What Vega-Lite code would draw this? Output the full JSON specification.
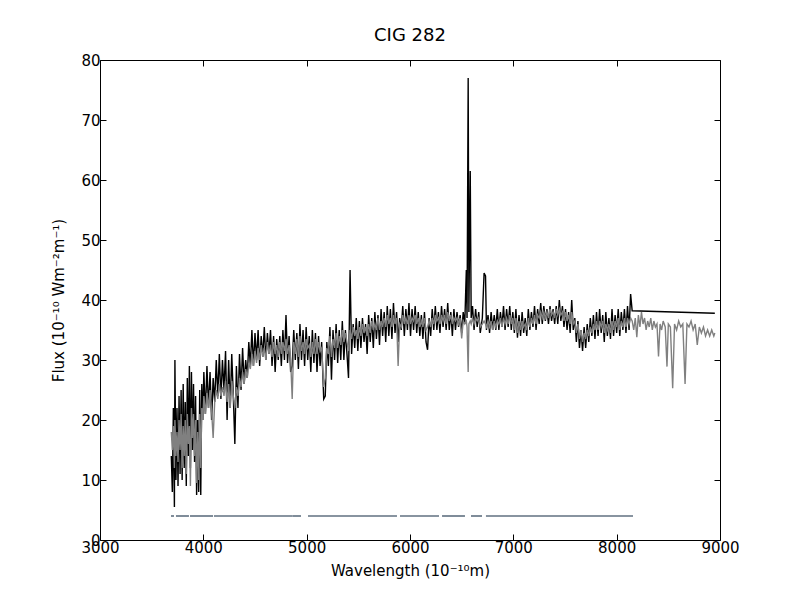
{
  "$schema": "https://vega.github.io/schema/vega-lite/v6.json",
  "width": 620,
  "height": 480,
  "autosize": {"type": "none"},
  "padding": {"left": 100, "top": 60, "right": 80, "bottom": 60},
  "background": "white",
  "title": {"text": "CIG 282", "font": "DejaVu Sans", "fontSize": 18, "fontWeight": "normal", "color": "black", "offset": 8},
  "config": {
    "view": {"stroke": "black", "strokeWidth": 1},
    "axis": {
      "domain": false, "grid": false, "tickColor": "black", "tickSize": -6, "tickWidth": 1,
      "labelFont": "DejaVu Sans", "labelFontSize": 15, "labelColor": "black", "labelFlush": false,
      "titleFont": "DejaVu Sans", "titleFontSize": 15, "titleFontWeight": "normal", "titleColor": "black",
      "labelPadding": 6
    }
  },
  "datasets": {
    "spec": [
      {"wl":3690,"obs":14,"fit":18},{"wl":3700,"obs":8,"fit":15},{"wl":3710,"obs":22,"fit":19},{"wl":3720,"obs":5.5,"fit":12},
      {"wl":3725,"obs":30,"fit":20},{"wl":3735,"obs":10,"fit":14},{"wl":3745,"obs":22,"fit":18},{"wl":3755,"obs":9,"fit":13},
      {"wl":3765,"obs":24,"fit":20},{"wl":3775,"obs":11,"fit":15},{"wl":3785,"obs":25,"fit":21},{"wl":3795,"obs":10,"fit":12},
      {"wl":3805,"obs":26,"fit":19},{"wl":3815,"obs":12,"fit":14},{"wl":3825,"obs":23,"fit":20},{"wl":3835,"obs":9,"fit":11},
      {"wl":3845,"obs":27,"fit":21},{"wl":3855,"obs":14,"fit":16},{"wl":3865,"obs":29,"fit":19},{"wl":3875,"obs":12,"fit":9},
      {"wl":3885,"obs":28,"fit":22},{"wl":3895,"obs":15,"fit":17},{"wl":3905,"obs":26,"fit":21},{"wl":3915,"obs":13,"fit":14},
      {"wl":3925,"obs":24,"fit":20},{"wl":3935,"obs":7.5,"fit":9.5},{"wl":3945,"obs":20,"fit":18},{"wl":3955,"obs":8,"fit":10},
      {"wl":3965,"obs":25,"fit":21},{"wl":3975,"obs":7.5,"fit":12},{"wl":3985,"obs":26,"fit":22},{"wl":3995,"obs":20,"fit":20},
      {"wl":4005,"obs":28,"fit":24},{"wl":4020,"obs":21,"fit":21},{"wl":4035,"obs":29,"fit":24.5},{"wl":4050,"obs":22,"fit":22},
      {"wl":4065,"obs":28,"fit":25},{"wl":4080,"obs":20,"fit":21.5},{"wl":4095,"obs":27,"fit":17},{"wl":4110,"obs":23,"fit":23},
      {"wl":4125,"obs":30,"fit":25},{"wl":4140,"obs":24,"fit":23.5},{"wl":4155,"obs":31,"fit":26},{"wl":4170,"obs":23.5,"fit":24},
      {"wl":4185,"obs":30,"fit":25.5},{"wl":4200,"obs":25,"fit":24},{"wl":4215,"obs":31.5,"fit":26.5},{"wl":4230,"obs":20,"fit":23},
      {"wl":4245,"obs":30,"fit":26},{"wl":4260,"obs":22,"fit":22},{"wl":4275,"obs":31,"fit":26.5},{"wl":4290,"obs":24,"fit":24},
      {"wl":4305,"obs":16,"fit":22},{"wl":4320,"obs":29,"fit":25.5},{"wl":4335,"obs":22,"fit":24},{"wl":4350,"obs":31,"fit":27},
      {"wl":4365,"obs":25,"fit":25.5},{"wl":4380,"obs":32,"fit":28},{"wl":4395,"obs":26,"fit":26},{"wl":4410,"obs":30,"fit":28.5},
      {"wl":4425,"obs":27,"fit":27},{"wl":4440,"obs":33,"fit":29.5},{"wl":4455,"obs":29,"fit":28.5},{"wl":4470,"obs":35,"fit":31},
      {"wl":4485,"obs":29,"fit":29},{"wl":4500,"obs":34.5,"fit":31.5},{"wl":4515,"obs":30,"fit":29.5},{"wl":4530,"obs":35,"fit":32},
      {"wl":4545,"obs":29,"fit":30},{"wl":4560,"obs":34,"fit":32.5},{"wl":4575,"obs":30.5,"fit":30.5},{"wl":4590,"obs":35.5,"fit":32},
      {"wl":4605,"obs":30,"fit":30},{"wl":4620,"obs":34.5,"fit":33},{"wl":4635,"obs":31,"fit":31},{"wl":4650,"obs":35,"fit":32.5},
      {"wl":4665,"obs":29,"fit":30.5},{"wl":4680,"obs":34,"fit":33},{"wl":4695,"obs":28,"fit":31},{"wl":4710,"obs":33.5,"fit":32.5},
      {"wl":4725,"obs":30,"fit":30.5},{"wl":4740,"obs":34,"fit":33},{"wl":4755,"obs":29,"fit":31},{"wl":4770,"obs":35,"fit":33},
      {"wl":4785,"obs":30,"fit":31.5},{"wl":4800,"obs":37.5,"fit":33.5},{"wl":4815,"obs":29.5,"fit":31},{"wl":4830,"obs":34,"fit":32.5},
      {"wl":4845,"obs":28,"fit":30},{"wl":4860,"obs":29,"fit":23.5},{"wl":4875,"obs":35,"fit":33},{"wl":4890,"obs":30,"fit":31},
      {"wl":4905,"obs":34.5,"fit":33.5},{"wl":4920,"obs":28.5,"fit":30.5},{"wl":4935,"obs":36,"fit":34},{"wl":4950,"obs":30,"fit":31.5},
      {"wl":4965,"obs":35,"fit":33},{"wl":4980,"obs":29,"fit":31},{"wl":4995,"obs":35.5,"fit":33.5},{"wl":5010,"obs":30,"fit":32},
      {"wl":5025,"obs":34,"fit":32.5},{"wl":5040,"obs":28,"fit":30.5},{"wl":5055,"obs":35,"fit":33},{"wl":5070,"obs":29.5,"fit":31},
      {"wl":5085,"obs":34.5,"fit":33.5},{"wl":5100,"obs":28,"fit":31},{"wl":5115,"obs":34,"fit":33},{"wl":5130,"obs":29,"fit":31.5},
      {"wl":5145,"obs":33,"fit":32},{"wl":5165,"obs":23.5,"fit":25.5},{"wl":5180,"obs":24,"fit":27},{"wl":5195,"obs":33,"fit":32},
      {"wl":5210,"obs":29,"fit":31},{"wl":5225,"obs":35.5,"fit":34},{"wl":5240,"obs":26.7,"fit":30.5},{"wl":5255,"obs":35,"fit":33.5},
      {"wl":5270,"obs":30,"fit":32},{"wl":5285,"obs":36,"fit":34.5},{"wl":5300,"obs":29.5,"fit":32},{"wl":5315,"obs":35,"fit":34},
      {"wl":5330,"obs":30,"fit":32.5},{"wl":5345,"obs":36.5,"fit":35},{"wl":5360,"obs":30,"fit":33},{"wl":5375,"obs":35,"fit":34.5},
      {"wl":5390,"obs":31,"fit":33},{"wl":5405,"obs":27,"fit":31.5},{"wl":5420,"obs":45,"fit":35},{"wl":5435,"obs":31,"fit":33.5},
      {"wl":5450,"obs":36,"fit":35.5},{"wl":5465,"obs":32,"fit":34},{"wl":5480,"obs":37,"fit":35},{"wl":5495,"obs":31.5,"fit":33.5},
      {"wl":5510,"obs":36.5,"fit":35.5},{"wl":5525,"obs":32,"fit":34},{"wl":5540,"obs":37,"fit":36},{"wl":5555,"obs":33,"fit":34.5},
      {"wl":5570,"obs":36,"fit":35.5},{"wl":5585,"obs":31,"fit":34},{"wl":5600,"obs":37.5,"fit":36},{"wl":5615,"obs":33,"fit":34.5},
      {"wl":5630,"obs":37,"fit":36.5},{"wl":5645,"obs":32,"fit":35},{"wl":5660,"obs":38,"fit":36},{"wl":5675,"obs":33.5,"fit":35},
      {"wl":5690,"obs":37.5,"fit":37},{"wl":5705,"obs":32.5,"fit":35},{"wl":5720,"obs":38.5,"fit":36.5},{"wl":5735,"obs":34,"fit":35.5},
      {"wl":5750,"obs":38,"fit":37},{"wl":5765,"obs":33,"fit":35.5},{"wl":5780,"obs":39,"fit":37.5},{"wl":5795,"obs":34,"fit":36},
      {"wl":5810,"obs":38.5,"fit":37},{"wl":5825,"obs":33.5,"fit":35.5},{"wl":5840,"obs":39.5,"fit":37.5},{"wl":5855,"obs":34.5,"fit":36},
      {"wl":5870,"obs":38,"fit":37},{"wl":5885,"obs":33,"fit":29},{"wl":5900,"obs":37,"fit":36},{"wl":5915,"obs":35,"fit":35.5},
      {"wl":5930,"obs":39,"fit":37.5},{"wl":5945,"obs":34,"fit":36},{"wl":5960,"obs":38.5,"fit":37},{"wl":5975,"obs":35,"fit":36},
      {"wl":5990,"obs":39.5,"fit":37.5},{"wl":6005,"obs":34,"fit":36},{"wl":6020,"obs":38.5,"fit":37},{"wl":6035,"obs":35,"fit":36.5},
      {"wl":6050,"obs":39,"fit":37.5},{"wl":6065,"obs":34.5,"fit":36},{"wl":6080,"obs":38,"fit":37},{"wl":6095,"obs":34,"fit":35.5},
      {"wl":6110,"obs":37.5,"fit":36.5},{"wl":6125,"obs":33.5,"fit":35.5},{"wl":6140,"obs":38,"fit":37},{"wl":6155,"obs":33,"fit":35},
      {"wl":6170,"obs":31.7,"fit":35.5},{"wl":6185,"obs":37,"fit":36.5},{"wl":6200,"obs":34,"fit":35.5},{"wl":6215,"obs":38.5,"fit":37},
      {"wl":6230,"obs":35,"fit":36},{"wl":6245,"obs":39,"fit":37.5},{"wl":6260,"obs":35,"fit":36.5},{"wl":6275,"obs":38,"fit":37},
      {"wl":6290,"obs":34.5,"fit":36},{"wl":6305,"obs":39,"fit":37.5},{"wl":6320,"obs":35.5,"fit":36.5},{"wl":6335,"obs":38.5,"fit":37.5},
      {"wl":6350,"obs":35,"fit":36},{"wl":6365,"obs":39.5,"fit":38},{"wl":6380,"obs":35,"fit":36.5},{"wl":6395,"obs":38,"fit":37.5},
      {"wl":6410,"obs":34,"fit":36},{"wl":6425,"obs":38.5,"fit":37},{"wl":6440,"obs":35,"fit":36.5},{"wl":6455,"obs":38,"fit":37},
      {"wl":6470,"obs":35.5,"fit":36},{"wl":6485,"obs":37.5,"fit":37},{"wl":6500,"obs":34.5,"fit":33.6},{"wl":6515,"obs":38,"fit":36.5},
      {"wl":6530,"obs":36,"fit":36},{"wl":6545,"obs":45,"fit":36.5},{"wl":6552,"obs":37,"fit":35.5},{"wl":6563,"obs":77,"fit":28},
      {"wl":6570,"obs":38,"fit":36},{"wl":6583,"obs":61.5,"fit":36.5},{"wl":6592,"obs":37,"fit":36},{"wl":6605,"obs":39,"fit":37},
      {"wl":6620,"obs":35,"fit":36},{"wl":6635,"obs":38.5,"fit":37},{"wl":6650,"obs":35.5,"fit":36.5},{"wl":6665,"obs":38,"fit":37},
      {"wl":6680,"obs":34.5,"fit":35.5},{"wl":6700,"obs":37,"fit":36},{"wl":6717,"obs":44.5,"fit":36.5},{"wl":6731,"obs":44,"fit":36},
      {"wl":6740,"obs":35,"fit":35.5},{"wl":6755,"obs":37.5,"fit":36.5},{"wl":6770,"obs":34.5,"fit":35.5},{"wl":6785,"obs":38,"fit":36.5},
      {"wl":6800,"obs":35,"fit":35},{"wl":6815,"obs":37.5,"fit":36.5},{"wl":6830,"obs":35,"fit":35.5},{"wl":6845,"obs":38.5,"fit":36.5},
      {"wl":6860,"obs":35,"fit":36},{"wl":6875,"obs":38,"fit":37},{"wl":6890,"obs":35.5,"fit":35.5},{"wl":6905,"obs":39,"fit":37},
      {"wl":6920,"obs":35,"fit":36},{"wl":6935,"obs":38.5,"fit":37},{"wl":6950,"obs":35.5,"fit":36},{"wl":6965,"obs":39,"fit":37.5},
      {"wl":6980,"obs":35,"fit":36},{"wl":6995,"obs":38,"fit":37},{"wl":7010,"obs":34.5,"fit":35},{"wl":7025,"obs":38.5,"fit":37},
      {"wl":7040,"obs":33.7,"fit":34.5},{"wl":7055,"obs":37.5,"fit":36.5},{"wl":7070,"obs":34,"fit":35},{"wl":7085,"obs":38,"fit":36.5},
      {"wl":7100,"obs":34.5,"fit":35.5},{"wl":7115,"obs":37,"fit":36},{"wl":7130,"obs":34,"fit":35},{"wl":7145,"obs":38.5,"fit":37},
      {"wl":7160,"obs":35,"fit":35.5},{"wl":7175,"obs":38,"fit":37},{"wl":7190,"obs":35.5,"fit":36},{"wl":7205,"obs":39,"fit":37.5},
      {"wl":7220,"obs":35,"fit":36},{"wl":7235,"obs":38.5,"fit":37.5},{"wl":7250,"obs":36,"fit":37},{"wl":7265,"obs":39.5,"fit":38},
      {"wl":7280,"obs":36,"fit":37},{"wl":7295,"obs":39,"fit":38},{"wl":7310,"obs":36.5,"fit":37},{"wl":7325,"obs":38.5,"fit":38},
      {"wl":7340,"obs":36,"fit":37},{"wl":7355,"obs":39,"fit":38.5},{"wl":7370,"obs":36.5,"fit":37.5},{"wl":7385,"obs":38.5,"fit":38},
      {"wl":7400,"obs":36,"fit":37},{"wl":7415,"obs":39,"fit":38.5},{"wl":7430,"obs":36,"fit":37.5},{"wl":7445,"obs":40,"fit":38.5},
      {"wl":7460,"obs":36.5,"fit":37.5},{"wl":7475,"obs":39,"fit":38},{"wl":7490,"obs":35.5,"fit":36.5},{"wl":7505,"obs":38.5,"fit":38},
      {"wl":7520,"obs":35,"fit":36.5},{"wl":7535,"obs":38,"fit":37.5},{"wl":7550,"obs":34.5,"fit":36},{"wl":7565,"obs":40,"fit":38},
      {"wl":7580,"obs":35,"fit":36},{"wl":7595,"obs":37,"fit":36.5},{"wl":7610,"obs":33,"fit":34.5},{"wl":7625,"obs":36.5,"fit":36},
      {"wl":7640,"obs":32,"fit":33.5},{"wl":7655,"obs":35,"fit":35},{"wl":7670,"obs":31.5,"fit":33},{"wl":7685,"obs":35.5,"fit":34.5},
      {"wl":7700,"obs":32,"fit":33.5},{"wl":7715,"obs":36,"fit":35},{"wl":7730,"obs":33,"fit":34},{"wl":7745,"obs":37,"fit":35.5},
      {"wl":7760,"obs":34,"fit":34.5},{"wl":7775,"obs":37.5,"fit":36},{"wl":7790,"obs":33.5,"fit":35},{"wl":7805,"obs":38,"fit":36.5},
      {"wl":7820,"obs":34,"fit":35},{"wl":7835,"obs":38.5,"fit":36.5},{"wl":7850,"obs":34.5,"fit":35.5},{"wl":7865,"obs":37.5,"fit":36.5},
      {"wl":7880,"obs":33,"fit":34.5},{"wl":7895,"obs":38,"fit":36},{"wl":7910,"obs":34,"fit":35},{"wl":7925,"obs":37,"fit":36},
      {"wl":7940,"obs":33.5,"fit":34.5},{"wl":7955,"obs":38.5,"fit":36.5},{"wl":7970,"obs":34,"fit":35},{"wl":7985,"obs":37.5,"fit":36.5},
      {"wl":8000,"obs":34.5,"fit":35.5},{"wl":8015,"obs":38.5,"fit":37},{"wl":8030,"obs":34,"fit":35},{"wl":8045,"obs":38,"fit":36.5},
      {"wl":8060,"obs":35,"fit":35.5},{"wl":8075,"obs":38.5,"fit":37},{"wl":8090,"obs":34.5,"fit":35.5},{"wl":8105,"obs":39,"fit":37},
      {"wl":8120,"obs":35,"fit":36},{"wl":8135,"obs":41,"fit":37},{"wl":8150,"obs":38.2,"fit":36.5},
      {"wl":8165,"obs":null,"fit":35},{"wl":8180,"obs":null,"fit":37},{"wl":8195,"obs":null,"fit":33.8},{"wl":8210,"obs":null,"fit":37.5},
      {"wl":8225,"obs":null,"fit":35.5},{"wl":8240,"obs":null,"fit":38},{"wl":8255,"obs":null,"fit":36},{"wl":8270,"obs":null,"fit":37},
      {"wl":8285,"obs":null,"fit":35},{"wl":8300,"obs":null,"fit":36.5},{"wl":8315,"obs":null,"fit":35.5},{"wl":8330,"obs":null,"fit":37},
      {"wl":8345,"obs":null,"fit":35},{"wl":8360,"obs":null,"fit":36.5},{"wl":8375,"obs":null,"fit":35.5},{"wl":8390,"obs":null,"fit":36},
      {"wl":8405,"obs":null,"fit":30.6},{"wl":8420,"obs":null,"fit":36},{"wl":8435,"obs":null,"fit":35},{"wl":8450,"obs":null,"fit":36.5},
      {"wl":8470,"obs":null,"fit":35.5},{"wl":8487,"obs":null,"fit":28.9},{"wl":8500,"obs":null,"fit":36},{"wl":8520,"obs":null,"fit":35.5},
      {"wl":8542,"obs":null,"fit":25.3},{"wl":8560,"obs":null,"fit":36},{"wl":8580,"obs":null,"fit":35},{"wl":8600,"obs":null,"fit":36.5},
      {"wl":8620,"obs":null,"fit":35.5},{"wl":8640,"obs":null,"fit":36},{"wl":8662,"obs":null,"fit":26},{"wl":8680,"obs":null,"fit":36},
      {"wl":8700,"obs":null,"fit":35.5},{"wl":8720,"obs":null,"fit":36.5},{"wl":8740,"obs":null,"fit":35},{"wl":8760,"obs":null,"fit":36},
      {"wl":8780,"obs":null,"fit":32.5},{"wl":8800,"obs":null,"fit":35.5},{"wl":8820,"obs":null,"fit":34.5},{"wl":8840,"obs":null,"fit":35.5},
      {"wl":8860,"obs":null,"fit":34},{"wl":8880,"obs":null,"fit":35},{"wl":8900,"obs":null,"fit":34},{"wl":8920,"obs":null,"fit":35},
      {"wl":8940,"obs":null,"fit":34},{"wl":8950,"obs":37.8,"fit":34.5}
    ],
    "mask": [
      {"start":3687,"end":3716},{"start":3735,"end":3861},{"start":3871,"end":4094},{"start":4103,"end":4858},
      {"start":4860,"end":4945},{"start":5013,"end":5874},{"start":5903,"end":6281},{"start":6310,"end":6532},
      {"start":6590,"end":6697},{"start":6735,"end":8158}
    ]
  },
  "layer": [
    {
      "data": {"name": "spec"},
      "transform": [{"filter": "isValid(datum.obs)"}],
      "mark": {"type": "line", "color": "black", "strokeWidth": 1.4, "clip": true},
      "encoding": {
        "x": {"field": "wl", "type": "quantitative", "scale": {"domain": [3000, 9000], "nice": false},
              "axis": {"title": "Wavelength (10⁻¹⁰m)", "values": [3000,4000,5000,6000,7000,8000,9000], "format": "d", "titlePadding": 8}},
        "y": {"field": "obs", "type": "quantitative", "scale": {"domain": [0, 80], "nice": false},
              "axis": {"title": "Flux (10⁻¹⁰ Wm⁻²m⁻¹)", "values": [0,10,20,30,40,50,60,70,80], "titlePadding": 14}}
      }
    },
    {
      "data": {"name": "spec"},
      "mark": {"type": "line", "color": "#808080", "strokeWidth": 1.4, "clip": true},
      "encoding": {
        "x": {"field": "wl", "type": "quantitative",
              "axis": {"orient": "top", "title": null, "labels": false, "values": [3000,4000,5000,6000,7000,8000,9000]}},
        "y": {"field": "fit", "type": "quantitative",
              "axis": {"orient": "right", "title": null, "labels": false, "values": [0,10,20,30,40,50,60,70,80]}}
      }
    },
    {
      "data": {"name": "mask"},
      "mark": {"type": "rule", "color": "#607080", "strokeWidth": 1.6},
      "encoding": {
        "x": {"field": "start", "type": "quantitative", "axis": null},
        "x2": {"field": "end"},
        "y": {"datum": 4, "axis": null}
      }
    }
  ],
  "resolve": {"axis": {"x": "independent", "y": "independent"}}
}
